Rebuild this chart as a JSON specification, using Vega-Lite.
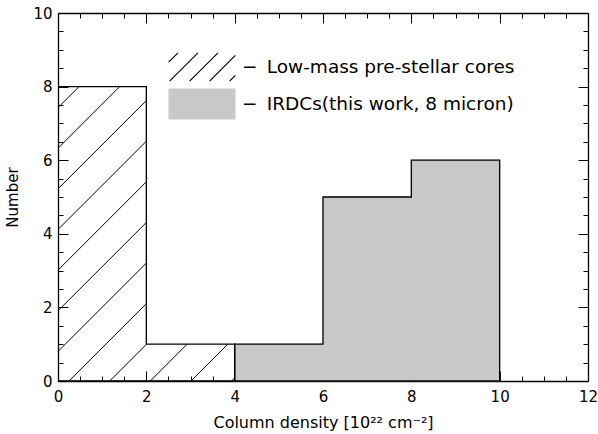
{
  "$schema": "https://vega.github.io/schema/vega-lite/v6.json",
  "width": 530,
  "height": 368,
  "autosize": "none",
  "padding": {"left": 58, "top": 13, "right": 10, "bottom": 53},
  "background": "white",
  "datasets": {
    "hist": [
      {"series": "Low-mass pre-stellar cores", "x0": 0, "x1": 2, "count": 8},
      {"series": "Low-mass pre-stellar cores", "x0": 2, "x1": 4, "count": 1},
      {"series": "Low-mass pre-stellar cores", "x0": 4, "x1": 6, "count": 0},
      {"series": "Low-mass pre-stellar cores", "x0": 6, "x1": 8, "count": 0},
      {"series": "Low-mass pre-stellar cores", "x0": 8, "x1": 10, "count": 0},
      {"series": "Low-mass pre-stellar cores", "x0": 10, "x1": 12, "count": 0},
      {"series": "IRDCs(this work, 8 micron)", "x0": 0, "x1": 2, "count": 0},
      {"series": "IRDCs(this work, 8 micron)", "x0": 2, "x1": 4, "count": 0},
      {"series": "IRDCs(this work, 8 micron)", "x0": 4, "x1": 6, "count": 1},
      {"series": "IRDCs(this work, 8 micron)", "x0": 6, "x1": 8, "count": 5},
      {"series": "IRDCs(this work, 8 micron)", "x0": 8, "x1": 10, "count": 6},
      {"series": "IRDCs(this work, 8 micron)", "x0": 10, "x1": 12, "count": 0}
    ],
    "hatch": [
      {"x": 0, "y": 7.428, "x2": 0.477, "y2": 8},
      {"x": 0, "y": 6.324, "x2": 1.397, "y2": 8},
      {"x": 0, "y": 5.22, "x2": 2, "y2": 7.62},
      {"x": 0, "y": 4.116, "x2": 2, "y2": 6.516},
      {"x": 0, "y": 3.012, "x2": 2, "y2": 5.412},
      {"x": 0, "y": 1.908, "x2": 2, "y2": 4.308},
      {"x": 0, "y": 0.804, "x2": 2, "y2": 3.204},
      {"x": 0.25, "y": 0, "x2": 2, "y2": 2.1},
      {"x": 1.17, "y": 0, "x2": 2, "y2": 0.996},
      {"x": 2.09, "y": 0, "x2": 2.923, "y2": 1},
      {"x": 3.01, "y": 0, "x2": 3.843, "y2": 1},
      {"x": 3.93, "y": 0, "x2": 4, "y2": 0.084}
    ]
  },
  "layer": [
    {
      "data": {"name": "hist"},
      "transform": [{"filter": "datum.series == 'IRDCs(this work, 8 micron)' && datum.count > 0"}],
      "mark": {"type": "rect", "color": "#c8c8c8", "stroke": "#c8c8c8", "strokeWidth": 0.8},
      "encoding": {
        "x": {"field": "x0", "type": "quantitative", "scale": {"domain": [0, 12], "nice": false, "zero": false},
          "axis": {"orient": "bottom", "values": [0, 2, 4, 6, 8, 10, 12], "tickSize": -10, "labelPadding": 18, "title": "Column density [10²² cm⁻²]", "titlePadding": 10, "titleFontSize": 16, "domain": true, "grid": false}},
        "x2": {"field": "x1"},
        "y": {"field": "count", "type": "quantitative", "scale": {"domain": [0, 10], "nice": false},
          "axis": {"orient": "left", "values": [0, 2, 4, 6, 8, 10], "tickSize": -10, "labelPadding": 16, "title": "Number", "titlePadding": 12, "domain": true, "grid": false}},
        "y2": {"datum": 0}
      }
    },
    {
      "data": {"name": "hatch"},
      "mark": {"type": "rule", "color": "black", "strokeWidth": 1},
      "encoding": {
        "x": {"field": "x", "type": "quantitative",
          "axis": {"orient": "bottom", "values": [0.5, 1, 1.5, 2.5, 3, 3.5, 4.5, 5, 5.5, 6.5, 7, 7.5, 8.5, 9, 9.5, 10.5, 11, 11.5], "tickSize": -5, "labels": false, "title": null, "domain": false, "grid": false}},
        "y": {"field": "y", "type": "quantitative",
          "axis": {"orient": "left", "values": [0.5, 1, 1.5, 2.5, 3, 3.5, 4.5, 5, 5.5, 6.5, 7, 7.5, 8.5, 9, 9.5], "tickSize": -5, "labels": false, "title": null, "domain": false, "grid": false}},
        "x2": {"field": "x2"},
        "y2": {"field": "y2"}
      }
    },
    {
      "data": {"name": "hist"},
      "mark": {"type": "line", "color": "black", "strokeWidth": 1.3, "interpolate": "step-after"},
      "encoding": {
        "x": {"field": "x0", "type": "quantitative",
          "axis": {"orient": "top", "values": [0, 2, 4, 6, 8, 10, 12], "tickSize": -10, "labels": false, "title": null, "domain": true, "grid": false}},
        "y": {"field": "count", "type": "quantitative",
          "axis": {"orient": "right", "values": [0, 2, 4, 6, 8, 10], "tickSize": -10, "labels": false, "title": null, "domain": true, "grid": false}},
        "detail": {"field": "series"},
        "order": {"field": "x0"}
      }
    },
    {
      "data": {"name": "hist"},
      "transform": [{"filter": "false"}],
      "mark": {"type": "point", "filled": true, "opacity": 1, "size": 961},
      "encoding": {
        "x": {"field": "x0", "type": "quantitative",
          "axis": {"orient": "top", "values": [0.5, 1, 1.5, 2.5, 3, 3.5, 4.5, 5, 5.5, 6.5, 7, 7.5, 8.5, 9, 9.5, 10.5, 11, 11.5], "tickSize": -5, "labels": false, "title": null, "domain": false, "grid": false}},
        "y": {"field": "count", "type": "quantitative",
          "axis": {"orient": "right", "values": [0.5, 1, 1.5, 2.5, 3, 3.5, 4.5, 5, 5.5, 6.5, 7, 7.5, 8.5, 9, 9.5], "tickSize": -5, "labels": false, "title": null, "domain": false, "grid": false}},
        "shape": {"field": "series", "type": "nominal",
          "scale": {"domain": ["Low-mass pre-stellar cores", "IRDCs(this work, 8 micron)"],
            "range": ["M-2.153,-0.313L-1.552,-0.912M-2.088,0.912L-0.262,-0.912M-0.798,0.912L1.029,-0.912M0.493,0.912L2.153,-0.746M1.783,0.912L2.153,0.545", "M-2.161,-1L2.161,-1L2.161,1L-2.161,1Z"]},
          "legend": {"orient": "none", "legendX": 127.5, "legendY": 37.5, "title": null, "symbolSize": 961, "symbolStrokeWidth": 1.1, "labelExpr": "'−\u2002' + datum.label", "labelFont": "DejaVu Sans", "labelFontSize": 18.5, "labelColor": "black", "labelOffset": 23.5, "labelLimit": 0, "rowPadding": 2, "symbolOpacity": 1}},
        "fill": {"field": "series", "type": "nominal",
          "scale": {"domain": ["Low-mass pre-stellar cores", "IRDCs(this work, 8 micron)"], "range": ["transparent", "#c8c8c8"]}},
        "stroke": {"field": "series", "type": "nominal",
          "scale": {"domain": ["Low-mass pre-stellar cores", "IRDCs(this work, 8 micron)"], "range": ["black", "transparent"]}}
      }
    }
  ],
  "resolve": {"axis": {"x": "independent", "y": "independent"}},
  "config": {
    "view": {"stroke": null},
    "axis": {"domainColor": "black", "domainWidth": 1.3, "tickColor": "black", "tickWidth": 1, "labelColor": "black", "labelFont": "DejaVu Sans", "labelFontSize": 15, "titleFont": "DejaVu Sans", "titleFontSize": 15, "titleFontWeight": "normal", "titleColor": "black", "labelFlush": false, "labelOverlap": false}
  }
}
